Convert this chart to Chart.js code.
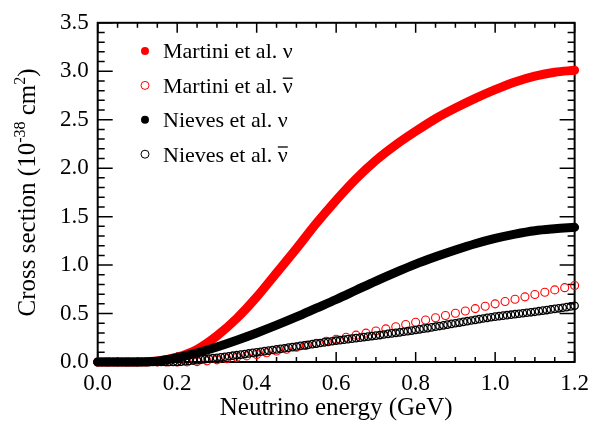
<!DOCTYPE html>
<html>
<head>
<meta charset="utf-8">
<script src="https://cdn.jsdelivr.net/npm/chart.js@4.4.1/dist/chart.umd.min.js"></script>
<style>
    html, body { margin: 0; padding: 0; background: #ffffff; }
    #crossChart { display: block; }
</style>
</head>
<body>
<canvas id="crossChart" width="597" height="422"></canvas>
<script>
// Series names (legend) - antineutrino ones get a bar drawn over the nu
const seriesNames = ["Martini et al. ν", "Martini et al. ν", "Nieves et al. ν", "Nieves et al. ν"];
const seriesBar = [false, true, false, true];
const seriesColors = ["#ff0000", "#ff0000", "#000000", "#000000"];
const seriesFilled = [true, false, true, false];

// Tick labels
const xTickLabels = ["0.0", "0.2", "0.4", "0.6", "0.8", "1.0", "1.2"];
const yTickLabels = ["0.0", "0.5", "1.0", "1.5", "2.0", "2.5", "3.0", "3.5"];

// Martini nu (filled red), every 0.05 GeV
const martiniNu = [0, 0, 0.001, 0.01, 0.05, 0.13, 0.27, 0.45, 0.67, 0.92, 1.17, 1.43, 1.67, 1.89, 2.08, 2.24, 2.38, 2.51, 2.62, 2.72, 2.81, 2.89, 2.95, 2.99, 3.01];

// Nieves nu (filled black), every 0.05 GeV
const nievesNu = [0, 0, 0, 0.008, 0.045, 0.095, 0.155, 0.225, 0.30, 0.38, 0.465, 0.555, 0.645, 0.74, 0.835, 0.925, 1.01, 1.085, 1.155, 1.22, 1.275, 1.32, 1.355, 1.375, 1.39];

// Martini anti-nu (open red), every 0.025 GeV
const martiniAnti = [0, 0, 0, 0, 0, 0, 0, 0, 0, 0.001, 0.004, 0.012, 0.022, 0.034, 0.048, 0.063,
    0.078, 0.095, 0.113, 0.132, 0.152, 0.172, 0.193, 0.214, 0.235, 0.256, 0.277, 0.298,
    0.32, 0.342, 0.364, 0.387, 0.41, 0.433, 0.456, 0.48, 0.503, 0.527, 0.551, 0.575,
    0.60, 0.624, 0.648, 0.672, 0.696, 0.72, 0.744, 0.767, 0.79];

// Nieves anti-nu (open black), every 0.01 GeV
const nievesAnti = [0, 0, 0, 0, 0, 0, 0, 0, 0, 0, 0, 0, 0, 0, 0, 0, 0, 0, 0, 0,
    0.002, 0.004, 0.008, 0.011, 0.015, 0.019, 0.024, 0.029, 0.034, 0.039,
    0.044, 0.049, 0.054, 0.059, 0.065, 0.07, 0.076, 0.082, 0.088, 0.094,
    0.10, 0.106, 0.112, 0.118, 0.124, 0.13, 0.136, 0.142, 0.148, 0.154,
    0.16, 0.166, 0.172, 0.178, 0.184, 0.19, 0.196, 0.202, 0.208, 0.214,
    0.22, 0.225, 0.23, 0.236, 0.241, 0.246, 0.251, 0.257, 0.262, 0.267,
    0.272, 0.278, 0.284, 0.29, 0.295, 0.301, 0.306, 0.312, 0.318, 0.324,
    0.33, 0.337, 0.344, 0.35, 0.357, 0.364, 0.371, 0.378, 0.386, 0.393,
    0.40, 0.407, 0.414, 0.421, 0.428, 0.435, 0.442, 0.449, 0.456, 0.462,
    0.468, 0.473, 0.478, 0.483, 0.488, 0.493, 0.498, 0.503, 0.508, 0.513,
    0.518, 0.524, 0.53, 0.536, 0.542, 0.548, 0.554, 0.56, 0.566, 0.573, 0.58];

const serif = "'Liberation Serif', 'DejaVu Serif', serif";

// pair the values with their energies (even sampling steps)
function toPoints(values, step) {
    return values.map((v, i) => ({ x: Math.round(i * step * 1000) / 1000, y: v }));
}

// frame and inward tick marks on all four sides
const framePlugin = {
    id: "frame",
    beforeDatasetsDraw(chart) {
        const ctx = chart.ctx;
        const a = chart.chartArea;
        const xs = chart.scales.x;
        const ys = chart.scales.y;
        ctx.save();
        ctx.strokeStyle = "#000";
        ctx.lineWidth = 1.5;
        for (let i = 0; i <= 24; i++) {
            const px = xs.getPixelForValue(i * 0.05);
            const len = i % 4 === 0 ? 10 : 5;
            ctx.beginPath();
            ctx.moveTo(px, a.bottom);
            ctx.lineTo(px, a.bottom - len);
            ctx.moveTo(px, a.top);
            ctx.lineTo(px, a.top + len);
            ctx.stroke();
        }
        for (let i = 0; i <= 35; i++) {
            const py = ys.getPixelForValue(i * 0.1);
            const len = i % 5 === 0 ? 15 : 7;
            ctx.beginPath();
            ctx.moveTo(a.left, py);
            ctx.lineTo(a.left + len, py);
            ctx.moveTo(a.right, py);
            ctx.lineTo(a.right - len, py);
            ctx.stroke();
        }
        ctx.lineWidth = 2;
        ctx.strokeRect(a.left, a.top, a.right - a.left, a.bottom - a.top);
        ctx.restore();
    }
};

// legend in the upper left, axis titles
const textPlugin = {
    id: "texts",
    afterDraw(chart) {
        const ctx = chart.ctx;
        const a = chart.chartArea;
        ctx.save();
        ctx.fillStyle = "#000";

        // legend
        ctx.font = "22px " + serif;
        ctx.textAlign = "left";
        ctx.textBaseline = "alphabetic";
        seriesNames.forEach((name, i) => {
            const cy = 51 + i * 34.4;
            ctx.beginPath();
            ctx.arc(145, cy, 4, 0, Math.PI * 2);
            if (seriesFilled[i]) {
                ctx.fillStyle = seriesColors[i];
                ctx.fill();
            } else {
                ctx.strokeStyle = seriesColors[i];
                ctx.lineWidth = 1;
                ctx.stroke();
            }
            ctx.fillStyle = "#000";
            ctx.fillText(name, 163, cy + 7.3);
            if (seriesBar[i]) {
                const w = ctx.measureText(name).width;
                const nw = ctx.measureText("ν").width;
                ctx.strokeStyle = "#000";
                ctx.lineWidth = 1.3;
                ctx.beginPath();
                ctx.moveTo(163 + w - nw, cy - 7.2);
                ctx.lineTo(163 + w, cy - 7.2);
                ctx.stroke();
            }
        });

        // x title
        ctx.font = "25px " + serif;
        ctx.textAlign = "center";
        ctx.fillText("Neutrino energy (GeV)", (a.left + a.right) / 2, 415);

        // y title with superscripts
        const parts = [["Cross section (10", 25, 0], ["-38", 16, -10], [" cm", 25, 0], ["2", 16, -10], [")", 25, 0]];
        let total = 0;
        parts.forEach(p => {
            ctx.font = p[1] + "px " + serif;
            total += ctx.measureText(p[0]).width;
        });
        ctx.translate(35, (a.top + a.bottom) / 2);
        ctx.rotate(-Math.PI / 2);
        ctx.textAlign = "left";
        let pos = -total / 2;
        parts.forEach(p => {
            ctx.font = p[1] + "px " + serif;
            ctx.fillText(p[0], pos, p[2]);
            pos += ctx.measureText(p[0]).width;
        });
        ctx.restore();
    }
};

function buildChart() {
    const ctx = document.getElementById("crossChart").getContext("2d");
    new Chart(ctx, {
        type: "line",
        data: {
            datasets: [
                {
                    label: seriesNames[0],
                    data: toPoints(martiniNu, 0.05),
                    borderColor: seriesColors[0],
                    borderWidth: 9,
                    borderCapStyle: "round",
                    borderJoinStyle: "round",
                    cubicInterpolationMode: "monotone",
                    pointRadius: 0,
                    clip: false,
                    order: 4
                },
                {
                    label: seriesNames[1],
                    data: toPoints(martiniAnti, 0.025),
                    showLine: false,
                    pointRadius: 4,
                    pointBorderWidth: 1.1,
                    pointBorderColor: seriesColors[1],
                    pointBackgroundColor: "rgba(0,0,0,0)",
                    clip: false,
                    order: 3
                },
                {
                    label: seriesNames[2],
                    data: toPoints(nievesNu, 0.05),
                    borderColor: seriesColors[2],
                    borderWidth: 9,
                    borderCapStyle: "round",
                    borderJoinStyle: "round",
                    cubicInterpolationMode: "monotone",
                    pointRadius: 0,
                    clip: false,
                    order: 2
                },
                {
                    label: seriesNames[3],
                    data: toPoints(nievesAnti, 0.01),
                    showLine: false,
                    pointRadius: 3.7,
                    pointBorderWidth: 1.3,
                    pointBorderColor: seriesColors[3],
                    pointBackgroundColor: "rgba(0,0,0,0)",
                    clip: false,
                    order: 1
                }
            ]
        },
        options: {
            responsive: false,
            animation: false,
            layout: { padding: { top: 19, right: 19, left: 0, bottom: 0 } },
            plugins: {
                legend: { display: false },
                tooltip: { enabled: false }
            },
            scales: {
                x: {
                    type: "linear",
                    min: 0,
                    max: 1.2,
                    grid: { display: false, drawTicks: false },
                    border: { display: false },
                    afterFit: (scale) => { scale.height = 60; },
                    ticks: {
                        stepSize: 0.2,
                        padding: 8,
                        color: "#000",
                        font: { family: serif, size: 23 },
                        maxRotation: 0,
                        callback: (v) => xTickLabels[Math.round(v / 0.2)]
                    }
                },
                y: {
                    type: "linear",
                    min: 0,
                    max: 3.5,
                    grid: { display: false, drawTicks: false },
                    border: { display: false },
                    afterFit: (scale) => { scale.width = 97.7; },
                    ticks: {
                        stepSize: 0.5,
                        padding: 9,
                        color: "#000",
                        font: { family: serif, size: 23 },
                        callback: (v) => yTickLabels[Math.round(v / 0.5)]
                    }
                }
            }
        },
        plugins: [framePlugin, textPlugin]
    });
}

window.onload = buildChart;
</script>
</body>
</html>
